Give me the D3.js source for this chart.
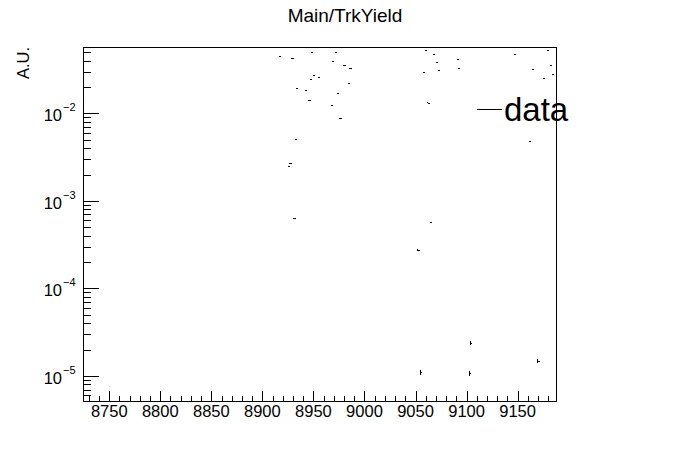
<!DOCTYPE html>
<html>
<head>
<meta charset="utf-8">
<script src="https://cdn.jsdelivr.net/npm/d3@7"></script>
<style>
  html, body { margin: 0; padding: 0; background: #fff; }
  svg { display: block; }
  text { font-family: "Liberation Sans", Arial, Helvetica, sans-serif; fill: #000; }
</style>
</head>
<body>
<svg id="chart" width="696" height="472"></svg>
<script>
// ---- data ----
const title = "Main/TrkYield";
const yLabel = "A.U.";
const legendLabel = "data";
const binCenters = [8917, 8926, 8928, 8929.5, 8931.5, 8932.5, 8933.5, 8943, 8946.5, 8947.5,
  8949, 8950.5, 8955, 8968.5, 8969.5, 8972, 8974.5, 8976.5, 8980.5, 8984.5,
  8986.5, 9053, 9055.5, 9058, 9060, 9063, 9065.5, 9068.5, 9071.5, 9073,
  9091.5, 9093, 9103.5, 9104.5, 9147.5, 9162.5, 9165.5, 9170.5, 9175.5, 9180,
  9183, 9185];
const binValues = [0.0452, 0.002505, 0.00269, 0.0426, 0.000633, 0.00506, 0.01934, 0.01835, 0.01411, 0.0247,
  0.0498, 0.0274, 0.0258, 0.01237, 0.0394, 0.0498, 0.01696, 0.00879, 0.0354, 0.02205,
  0.0327, 0.000275, 1.10e-5, 0.0299, 0.0530, 0.01324, 0.00057, 0.0477, 0.0383, 0.0313,
  0.0418, 0.0332, 1.07e-5, 2.36e-5, 0.0477, 0.00484, 0.0319, 1.48e-5, 0.02516, 0.0530,
  0.0357, 0.0282];
const binErrors = [0.0002, 0.00002, 0.00002, 0.0002, 0.00001, 0.00003, 0.0001, 0.0001, 0.0001, 0.0001,
  0.0002, 0.0001, 0.0001, 0.0001, 0.0002, 0.0002, 0.0001, 0.00005, 0.0002, 0.0001,
  0.0002, 0.000008, 6e-7, 0.0001, 0.0002, 0.0001, 0.00001, 0.0002, 0.0002, 0.0001,
  0.0002, 0.0002, 6e-7, 1.2e-6, 0.0002, 0.00003, 0.0001, 8e-7, 0.0001, 0.0002,
  0.0002, 0.0001];
const binHalfWidth = 1;
const xDomain = [8724.3, 9187.6];
const yDomain = [5.18e-6, 0.0573];
const xMajorTicks = [8750, 8800, 8850, 8900, 8950, 9000, 9050, 9100, 9150];
const yMajorExponents = [-5, -4, -3, -2];

// ---- layout ----
const svg = d3.select("#chart");
const L = 83, R = 556, T = 47, B = 401;

const x = d3.scaleLinear().domain(xDomain).range([L, R]);
const y = d3.scaleLog().domain(yDomain).range([B, T]);

svg.append("rect").attr("width", 696).attr("height", 472).attr("fill", "#fff");

const g = svg.append("g").attr("shape-rendering", "crispEdges");

// x ticks (major + minor)
const xMinor = d3.range(8730, 9187, 10).filter(v => xMajorTicks.indexOf(v) < 0);
g.selectAll(".xmin").data(xMinor).enter().append("line")
  .attr("x1", d => Math.round(x(d)) + 0.5).attr("x2", d => Math.round(x(d)) + 0.5)
  .attr("y1", B).attr("y2", B - 5).attr("stroke", "#000");
g.selectAll(".xmaj").data(xMajorTicks).enter().append("line")
  .attr("x1", d => Math.round(x(d)) + 0.5).attr("x2", d => Math.round(x(d)) + 0.5)
  .attr("y1", B).attr("y2", B - 10).attr("stroke", "#000");
svg.selectAll(".xlab").data(xMajorTicks).enter().append("text")
  .attr("x", d => x(d)).attr("y", 417).attr("text-anchor", "middle")
  .attr("font-size", "16.5px").text(d => d);

// y ticks (log)
const yMinor = [];
for (let e = -6; e <= -2; e++) for (let k = 2; k <= 9; k++) {
  const v = k * Math.pow(10, e);
  if (v > yDomain[0] && v < yDomain[1]) yMinor.push(v);
}
g.selectAll(".ymin").data(yMinor).enter().append("line")
  .attr("x1", L).attr("x2", L + 8)
  .attr("y1", d => Math.round(y(d)) + 0.5).attr("y2", d => Math.round(y(d)) + 0.5)
  .attr("stroke", "#000");
g.selectAll(".ymaj").data(yMajorExponents).enter().append("line")
  .attr("x1", L).attr("x2", L + 16)
  .attr("y1", d => Math.round(y(Math.pow(10, d))) + 0.5).attr("y2", d => Math.round(y(Math.pow(10, d))) + 0.5)
  .attr("stroke", "#000");
const ylab = svg.selectAll(".ylab").data(yMajorExponents).enter().append("g");
ylab.append("text")
  .attr("x", 62).attr("y", d => y(Math.pow(10, d)) + 8)
  .attr("text-anchor", "end").attr("font-size", "16.5px").text("10");
ylab.append("text")
  .attr("x", 63).attr("y", d => y(Math.pow(10, d)) - 2)
  .attr("text-anchor", "start").attr("font-size", "11px").text(d => "\u2212" + Math.abs(d));

// frame
g.append("rect").attr("x", L + 0.5).attr("y", T + 0.5)
  .attr("width", R - L).attr("height", B - T)
  .attr("fill", "none").attr("stroke", "#000");

// data points (bin width lines + error bars)
const pts = binCenters.map((c, i) => ({ c, v: binValues[i], e: binErrors[i] }));
const pg = g.append("g");
pg.selectAll(".h").data(pts).enter().append("line")
  .attr("x1", d => x(d.c - binHalfWidth)).attr("x2", d => x(d.c + binHalfWidth))
  .attr("y1", d => Math.round(y(d.v)) + 0.5).attr("y2", d => Math.round(y(d.v)) + 0.5)
  .attr("stroke", "#000");
pg.selectAll(".v").data(pts).enter().append("line")
  .attr("x1", d => Math.floor(x(d.c - binHalfWidth)) + 0.5).attr("x2", d => Math.floor(x(d.c - binHalfWidth)) + 0.5)
  .attr("y1", d => y(d.v + d.e)).attr("y2", d => y(Math.max(d.v - d.e, yDomain[0])))
  .attr("stroke", "#000");

// title
svg.append("text").attr("x", 345).attr("y", 22).attr("text-anchor", "middle")
  .attr("font-size", "19px").text(title);

// y label
svg.append("text").attr("transform", "translate(29,47) rotate(-90)")
  .attr("text-anchor", "end").attr("font-size", "16.5px").text(yLabel);

// legend
svg.append("line").attr("x1", 477).attr("x2", 502).attr("y1", 109.5).attr("y2", 109.5)
  .attr("stroke", "#000").attr("shape-rendering", "crispEdges");
svg.append("text").attr("x", 504).attr("y", 121).attr("font-size", "33px").text(legendLabel);
</script>
</body>
</html>
